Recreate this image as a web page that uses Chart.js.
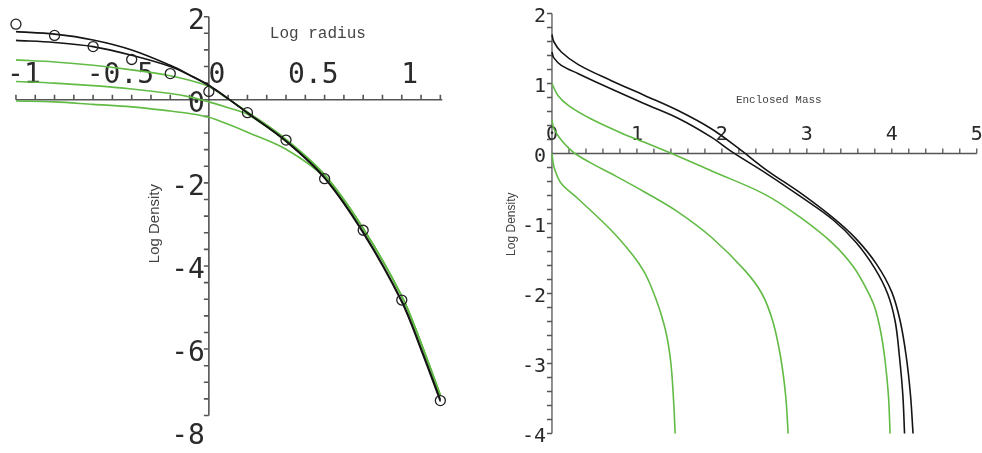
<!DOCTYPE html>
<html lang="en">

<head>
    <meta charset="UTF-8" />
    <title>Log Density profiles</title>
    <script src="https://cdn.jsdelivr.net/npm/chart.js"></script>
    <style>
        body { margin: 0; background: #fff; }
        canvas { position: absolute; top: 0; }
        #left { left: 0; }
        #right { left: 490px; }
    </style>
</head>

<body>
    <canvas id="left" width="460" height="453"></canvas>
    <canvas id="right" width="492" height="453"></canvas>

    <script>
        // left panel: log density vs log radius
        const leftRadius = [-1.0, -0.8, -0.6, -0.4, -0.2, -0.1, 0.0, 0.1, 0.2, 0.4, 0.6, 0.8, 1.0, 1.1, 1.2];
        const leftBlack1 = [1.64, 1.58, 1.44, 1.20, 0.83, 0.60, 0.35, 0.03, -0.31, -0.99, -1.87, -3.18, -4.84, -5.98, -7.22];
        const leftBlack2 = [1.43, 1.38, 1.28, 1.07, 0.80, 0.59, 0.34, 0.02, -0.32, -1.00, -1.89, -3.21, -4.87, -6.02, -7.26];
        const leftGreen1 = [0.96, 0.91, 0.83, 0.72, 0.58, 0.47, 0.32, 0.02, -0.29, -0.95, -1.80, -3.09, -4.72, -5.85, -7.10];
        const leftGreen2 = [0.44, 0.40, 0.34, 0.26, 0.15, 0.07, -0.05, -0.19, -0.35, -1.00, -1.82, -3.10, -4.73, -5.86, -7.12];
        const leftGreen3 = [-0.03, -0.05, -0.11, -0.17, -0.27, -0.33, -0.42, -0.59, -0.78, -1.19, -1.87, -3.10, -4.73, -5.86, -7.12];
        const obsRadius = [-1.0, -0.8, -0.6, -0.4, -0.2, 0.0, 0.2, 0.4, 0.6, 0.8, 1.0, 1.2];
        const obsDensity = [1.82, 1.55, 1.28, 0.97, 0.63, 0.20, -0.31, -0.97, -1.90, -3.14, -4.82, -7.24];

        // right panel: log density vs enclosed mass
        const rBlack1M = [0, 0.02, 0.11, 0.31, 0.7, 1.09, 1.49, 1.88, 2.19, 2.53, 2.92, 3.31, 3.58, 3.82, 4.0, 4.1, 4.17, 4.22, 4.25];
        const rBlack1D = [1.70, 1.60, 1.45, 1.27, 1.04, 0.83, 0.61, 0.35, 0.08, -0.24, -0.56, -0.92, -1.22, -1.58, -1.98, -2.4, -2.9, -3.45, -4.0];
        const rBlack2M = [0, 0.02, 0.11, 0.31, 0.7, 1.09, 1.49, 1.88, 2.11, 2.53, 2.92, 3.31, 3.58, 3.8, 3.95, 4.04, 4.09, 4.13, 4.15];
        const rBlack2D = [1.45, 1.37, 1.26, 1.14, 0.92, 0.71, 0.50, 0.23, 0.03, -0.29, -0.61, -0.95, -1.27, -1.64, -2.0, -2.4, -2.9, -3.45, -4.0];
        const rGreen1M = [0, 0.07, 0.2, 0.45, 0.84, 1.09, 1.41, 1.88, 2.5, 2.92, 3.31, 3.55, 3.70, 3.80, 3.87, 3.92, 3.96, 3.98];
        const rGreen1D = [1.0, 0.83, 0.68, 0.50, 0.28, 0.16, 0.0, -0.25, -0.58, -0.91, -1.29, -1.62, -1.93, -2.2, -2.55, -2.95, -3.45, -4.0];
        const rGreen2M = [0, 0.02, 0.08, 0.17, 0.27, 0.51, 0.7, 1.09, 1.49, 1.88, 2.27, 2.47, 2.6, 2.69, 2.75, 2.78];
        const rGreen2D = [0.48, 0.36, 0.24, 0.11, 0.0, -0.17, -0.29, -0.55, -0.84, -1.2, -1.67, -2.0, -2.4, -2.9, -3.45, -4.0];
        const rGreen3M = [0, 0.01, 0.03, 0.11, 0.31, 0.7, 0.95, 1.08, 1.17, 1.27, 1.35, 1.40, 1.43, 1.45];
        const rGreen3D = [0.0, -0.1, -0.22, -0.43, -0.65, -1.1, -1.45, -1.68, -1.91, -2.24, -2.6, -3.0, -3.5, -4.0];

        // tick labels
        const leftXTicks = [-1, -0.5, 0, 0.5, 1];
        const leftYTicks = [2, 0, -2, -4, -6, -8];
        const rightXTicks = [0, 1, 2, 3, 4, 5];
        const rightYTicks = [2, 1, 0, -1, -2, -3, -4];

        const GREEN = "#62bb45";
        const BLACK = "#151515";

        const pts = (xs, ys) => xs.map((x, i) => ({ x: x, y: ys[i] }));

        const line = (xs, ys, color, order) => ({
            data: pts(xs, ys),
            showLine: true,
            borderColor: color,
            borderWidth: 1.6,
            pointRadius: 0,
            tension: 0.35,
            order: order,
        });

        // axes crossing at the origin, mathematica style
        const crossAxes = {
            id: "crossAxes",
            beforeDatasetsDraw(chart, args, o) {
                const { ctx, scales: { x, y } } = chart;
                const px = (v) => x.getPixelForValue(v);
                const py = (v) => y.getPixelForValue(v);
                const x0 = px(0), y0 = py(0);
                ctx.save();
                ctx.strokeStyle = "#555";
                ctx.lineWidth = o.width;
                ctx.beginPath();
                ctx.moveTo(px(o.xFrom), y0);
                ctx.lineTo(px(o.xTo), y0);
                ctx.moveTo(x0, py(o.yTo));
                ctx.lineTo(x0, py(o.yFrom));
                // ticks
                const nx = Math.round((o.xTickTo - o.xFrom) / o.xStep);
                for (let i = 0; i <= nx; i++) {
                    const v = o.xFrom + i * o.xStep;
                    if (Math.abs(v) < 1e-9) continue;
                    ctx.moveTo(px(v), y0);
                    ctx.lineTo(px(v), y0 - o.tick);
                }
                const ny = Math.round((o.yTo - o.yFrom) / o.yStep);
                for (let i = 0; i <= ny; i++) {
                    const v = o.yTo - i * o.yStep;
                    if (Math.abs(v) < 1e-9) continue;
                    ctx.moveTo(x0, py(v));
                    ctx.lineTo(x0 - o.tick, py(v));
                }
                ctx.stroke();

                // tick labels
                ctx.fillStyle = "#2a2a2a";
                ctx.font = o.tickFont;
                ctx.textBaseline = "middle";
                ctx.textAlign = "center";
                o.xLabels.forEach((v) => {
                    ctx.fillText(String(v), px(v) + o.xLabelShift, y0 - o.xLabelGap);
                });
                ctx.textAlign = "right";
                o.yLabels.forEach((v) => {
                    ctx.fillText(String(v), x0 - o.yLabelGap, py(v) + o.yLabelDrop);
                });

                // axis titles
                ctx.fillStyle = "#444";
                ctx.textAlign = "center";
                ctx.font = o.xTitleFont;
                ctx.fillText(o.xTitle, px(o.xTitleAt[0]), py(o.xTitleAt[1]));
                ctx.save();
                ctx.translate(px(o.yTitleAt[0]), py(o.yTitleAt[1]));
                ctx.rotate(-Math.PI / 2);
                ctx.font = o.yTitleFont;
                ctx.fillText(o.yTitle, 0, 0);
                ctx.restore();
                ctx.restore();
            },
        };

        const baseOptions = (xmin, xmax, ymin, ymax, padding, axes) => ({
            responsive: false,
            animation: false,
            devicePixelRatio: 1,
            layout: { padding: padding },
            scales: {
                x: { type: "linear", min: xmin, max: xmax, display: false },
                y: { type: "linear", min: ymin, max: ymax, display: false },
            },
            plugins: {
                legend: { display: false },
                tooltip: { enabled: false },
                crossAxes: axes,
            },
        });

        new Chart(document.getElementById("left"), {
            type: "scatter",
            data: {
                datasets: [
                    {
                        data: pts(obsRadius, obsDensity),
                        pointRadius: 5,
                        pointBorderWidth: 1.3,
                        pointBorderColor: "#222",
                        pointBackgroundColor: "rgba(0,0,0,0)",
                        order: 0,
                    },
                    line(leftRadius, leftBlack1, BLACK, 1),
                    line(leftRadius, leftBlack2, BLACK, 1),
                    line(leftRadius, leftGreen1, GREEN, 2),
                    line(leftRadius, leftGreen2, GREEN, 2),
                    line(leftRadius, leftGreen3, GREEN, 2),
                ],
            },
            options: baseOptions(-1.05, 1.25, -8.35, 2.25, { left: 6, right: 10, top: 1, bottom: 2 }, {
                width: 1.6, tick: 5,
                xFrom: -1, xTo: 1.21, xTickTo: 1.2, xStep: 0.1,
                yFrom: -7.6, yTo: 2, yStep: 0.4,
                xLabels: leftXTicks, yLabels: leftYTicks,
                tickFont: "28px 'DejaVu Sans Mono'",
                xLabelShift: 8, xLabelGap: 24, yLabelGap: 4, yLabelDrop: 5,
                xTitle: "Log radius", xTitleFont: "16px 'Liberation Mono'", xTitleAt: [0.565, 1.6],
                yTitle: "Log Density", yTitleFont: "15px 'Liberation Sans'", yTitleAt: [-0.28, -2.98],
            }),
            plugins: [crossAxes],
        });

        new Chart(document.getElementById("right"), {
            type: "scatter",
            data: {
                datasets: [
                    line(rBlack1M, rBlack1D, BLACK, 1),
                    line(rBlack2M, rBlack2D, BLACK, 1),
                    line(rGreen1M, rGreen1D, GREEN, 2),
                    line(rGreen2M, rGreen2D, GREEN, 2),
                    line(rGreen3M, rGreen3D, GREEN, 2),
                ],
            },
            options: baseOptions(-0.6, 5.05, -4.25, 2.15, { left: 11, right: 1, top: 3, bottom: 2 }, {
                width: 1.3, tick: 5,
                xFrom: 0, xTo: 5, xTickTo: 5, xStep: 0.2,
                yFrom: -4, yTo: 2, yStep: 0.2,
                xLabels: rightXTicks, yLabels: rightYTicks,
                tickFont: "20px 'DejaVu Sans Mono'",
                xLabelShift: 0, xLabelGap: 19, yLabelGap: 6, yLabelDrop: 3,
                xTitle: "Enclosed Mass", xTitleFont: "11px 'Liberation Mono'", xTitleAt: [2.67, 0.76],
                yTitle: "Log Density", yTitleFont: "12px 'Liberation Sans'", yTitleAt: [-0.47, -1.01],
            }),
            plugins: [crossAxes],
        });
    </script>
</body>

</html>
